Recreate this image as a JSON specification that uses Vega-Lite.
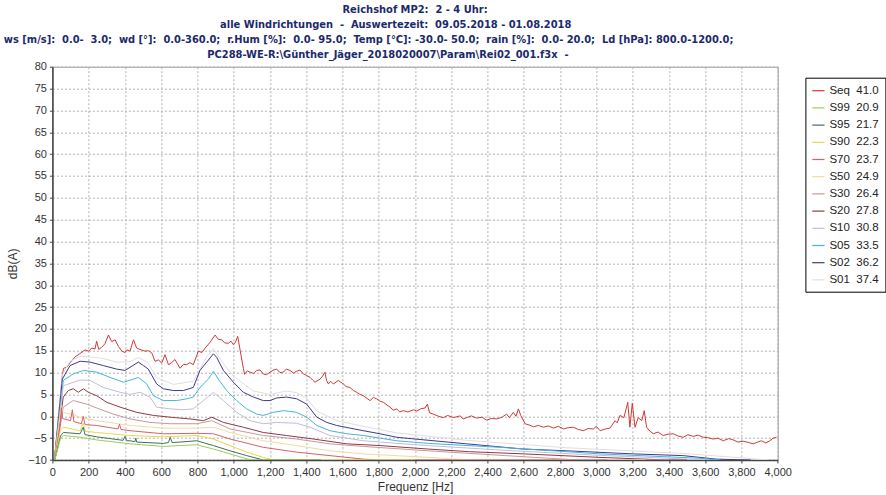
{
  "$schema": "https://vega.github.io/schema/vega-lite/v6.json",
  "width": 725.3,
  "height": 393.3,
  "autosize": "none",
  "padding": {"left": 52.4, "top": 66.7, "right": 108.3, "bottom": 35},
  "background": "white",
  "title": {
    "text": ["Reichshof MP2:\u00a0 2 - 4 Uhr:", "alle Windrichtungen\u00a0 -\u00a0 Auswertezeit:\u00a0 09.05.2018 - 01.08.2018\u2800\u2800\u2800\u2800\u2800", "ws [m/s]:\u00a0 0.0-\u00a0 3.0;\u00a0 wd [°]:\u00a0 0.0-360.0;\u00a0 r.Hum [%]:\u00a0 0.0- 95.0;\u00a0 Temp [°C]: -30.0- 50.0;\u00a0 rain [%]:\u00a0 0.0- 20.0;\u00a0 Ld [hPa]: 800.0-1200.0;\u2800\u2800\u2800\u2800\u2800\u2800\u2800\u2800\u2800\u2800\u2800\u2800", "PC288-WE-R:\\Günther_Jäger_2018020007\\Param\\Rei02_001.f3x\u00a0 -\u2800\u2800\u2800\u2800\u2800\u2800\u2800"],
    "font": "Liberation Sans Narrow, DejaVu Sans Condensed, sans-serif",
    "fontSize": 11,
    "fontWeight": "bold",
    "color": "#1c2a6c",
    "lineHeight": 15,
    "anchor": "middle",
    "offset": 1
  },
  "config": {
    "view": {"stroke": "#999", "strokeWidth": 1},
    "font": "Liberation Sans",
    "axis": {
      "labelFont": "Liberation Sans", "labelFontSize": 11, "labelColor": "#333",
      "titleFont": "Liberation Sans", "titleFontSize": 12, "titleFontWeight": "normal", "titleColor": "#333",
      "domainColor": "#444", "domainWidth": 1.5, "tickColor": "#444", "tickSize": 3,
      "gridColor": "#b0b0b0", "gridDash": [2, 2], "gridWidth": 1
    }
  },
  "datasets": {
    "spec": [
      {"s":"Seq","f":10,"v":-10.5},{"s":"Seq","f":55,"v":9.5},{"s":"Seq","f":62,"v":11.0},{"s":"Seq","f":80,"v":11.2},{"s":"Seq","f":100,"v":12.4},{"s":"Seq","f":125,"v":13.6},{"s":"Seq","f":150,"v":14.3},{"s":"Seq","f":180,"v":15.2},{"s":"Seq","f":200,"v":14.9},{"s":"Seq","f":216,"v":15.6},{"s":"Seq","f":235,"v":15.4},{"s":"Seq","f":244,"v":17.2},{"s":"Seq","f":256,"v":15.3},{"s":"Seq","f":272,"v":15.8},{"s":"Seq","f":290,"v":16.6},{"s":"Seq","f":309,"v":18.6},{"s":"Seq","f":327,"v":17.1},{"s":"Seq","f":346,"v":17.5},{"s":"Seq","f":364,"v":16.0},{"s":"Seq","f":383,"v":14.9},{"s":"Seq","f":400,"v":14.6},{"s":"Seq","f":410,"v":15.2},{"s":"Seq","f":428,"v":14.9},{"s":"Seq","f":447,"v":17.5},{"s":"Seq","f":465,"v":15.6},{"s":"Seq","f":490,"v":15.2},{"s":"Seq","f":511,"v":14.9},{"s":"Seq","f":530,"v":15.0},{"s":"Seq","f":548,"v":14.5},{"s":"Seq","f":566,"v":12.6},{"s":"Seq","f":585,"v":12.9},{"s":"Seq","f":603,"v":12.2},{"s":"Seq","f":621,"v":14.1},{"s":"Seq","f":640,"v":11.8},{"s":"Seq","f":658,"v":12.3},{"s":"Seq","f":676,"v":13.0},{"s":"Seq","f":690,"v":12.0},{"s":"Seq","f":704,"v":11.0},{"s":"Seq","f":722,"v":11.9},{"s":"Seq","f":740,"v":11.8},{"s":"Seq","f":758,"v":12.3},{"s":"Seq","f":777,"v":11.8},{"s":"Seq","f":805,"v":14.9},{"s":"Seq","f":825,"v":14.6},{"s":"Seq","f":842,"v":15.6},{"s":"Seq","f":869,"v":16.9},{"s":"Seq","f":897,"v":18.6},{"s":"Seq","f":915,"v":17.6},{"s":"Seq","f":934,"v":17.5},{"s":"Seq","f":950,"v":16.8},{"s":"Seq","f":970,"v":16.7},{"s":"Seq","f":985,"v":17.2},{"s":"Seq","f":998,"v":16.4},{"s":"Seq","f":1010,"v":17.0},{"s":"Seq","f":1022,"v":18.3},{"s":"Seq","f":1035,"v":15.2},{"s":"Seq","f":1053,"v":11.0},{"s":"Seq","f":1060,"v":9.6},{"s":"Seq","f":1075,"v":10.4},{"s":"Seq","f":1090,"v":10.1},{"s":"Seq","f":1110,"v":9.8},{"s":"Seq","f":1127,"v":10.5},{"s":"Seq","f":1145,"v":10.6},{"s":"Seq","f":1163,"v":9.7},{"s":"Seq","f":1180,"v":9.5},{"s":"Seq","f":1200,"v":10.1},{"s":"Seq","f":1220,"v":10.6},{"s":"Seq","f":1237,"v":10.8},{"s":"Seq","f":1255,"v":10.0},{"s":"Seq","f":1274,"v":10.1},{"s":"Seq","f":1290,"v":10.8},{"s":"Seq","f":1310,"v":10.5},{"s":"Seq","f":1330,"v":9.9},{"s":"Seq","f":1347,"v":10.3},{"s":"Seq","f":1365,"v":10.6},{"s":"Seq","f":1384,"v":9.7},{"s":"Seq","f":1400,"v":9.4},{"s":"Seq","f":1421,"v":8.9},{"s":"Seq","f":1435,"v":8.3},{"s":"Seq","f":1448,"v":7.8},{"s":"Seq","f":1476,"v":8.5},{"s":"Seq","f":1490,"v":9.2},{"s":"Seq","f":1503,"v":10.1},{"s":"Seq","f":1512,"v":8.2},{"s":"Seq","f":1522,"v":7.4},{"s":"Seq","f":1535,"v":8.0},{"s":"Seq","f":1549,"v":7.4},{"s":"Seq","f":1577,"v":8.2},{"s":"Seq","f":1590,"v":7.8},{"s":"Seq","f":1605,"v":7.4},{"s":"Seq","f":1620,"v":6.8},{"s":"Seq","f":1641,"v":6.6},{"s":"Seq","f":1660,"v":5.9},{"s":"Seq","f":1678,"v":5.5},{"s":"Seq","f":1697,"v":5.0},{"s":"Seq","f":1715,"v":4.7},{"s":"Seq","f":1735,"v":4.1},{"s":"Seq","f":1752,"v":3.6},{"s":"Seq","f":1770,"v":4.3},{"s":"Seq","f":1788,"v":4.0},{"s":"Seq","f":1805,"v":3.5},{"s":"Seq","f":1825,"v":3.2},{"s":"Seq","f":1845,"v":2.6},{"s":"Seq","f":1862,"v":2.1},{"s":"Seq","f":1880,"v":1.4},{"s":"Seq","f":1899,"v":1.7},{"s":"Seq","f":1915,"v":1.0},{"s":"Seq","f":1935,"v":1.3},{"s":"Seq","f":1960,"v":1.0},{"s":"Seq","f":1991,"v":1.5},{"s":"Seq","f":2010,"v":1.2},{"s":"Seq","f":2030,"v":1.7},{"s":"Seq","f":2055,"v":1.9},{"s":"Seq","f":2068,"v":2.8},{"s":"Seq","f":2080,"v":0.8},{"s":"Seq","f":2101,"v":0.5},{"s":"Seq","f":2130,"v":0.0},{"s":"Seq","f":2156,"v":-0.3},{"s":"Seq","f":2180,"v":0.2},{"s":"Seq","f":2211,"v":-0.3},{"s":"Seq","f":2248,"v":0.1},{"s":"Seq","f":2265,"v":-0.6},{"s":"Seq","f":2285,"v":-0.3},{"s":"Seq","f":2310,"v":0.1},{"s":"Seq","f":2340,"v":-0.4},{"s":"Seq","f":2370,"v":-0.2},{"s":"Seq","f":2395,"v":-0.9},{"s":"Seq","f":2420,"v":-0.5},{"s":"Seq","f":2450,"v":-0.6},{"s":"Seq","f":2480,"v":-0.2},{"s":"Seq","f":2505,"v":0.5},{"s":"Seq","f":2520,"v":-0.3},{"s":"Seq","f":2542,"v":0.9},{"s":"Seq","f":2557,"v":0.0},{"s":"Seq","f":2570,"v":1.7},{"s":"Seq","f":2583,"v":0.2},{"s":"Seq","f":2607,"v":-1.7},{"s":"Seq","f":2630,"v":-2.0},{"s":"Seq","f":2653,"v":-2.4},{"s":"Seq","f":2680,"v":-2.1},{"s":"Seq","f":2708,"v":-2.5},{"s":"Seq","f":2735,"v":-2.2},{"s":"Seq","f":2763,"v":-2.7},{"s":"Seq","f":2790,"v":-2.3},{"s":"Seq","f":2818,"v":-2.9},{"s":"Seq","f":2845,"v":-2.6},{"s":"Seq","f":2873,"v":-2.5},{"s":"Seq","f":2900,"v":-3.0},{"s":"Seq","f":2928,"v":-3.3},{"s":"Seq","f":2955,"v":-2.8},{"s":"Seq","f":2983,"v":-2.9},{"s":"Seq","f":3000,"v":-2.3},{"s":"Seq","f":3020,"v":-3.3},{"s":"Seq","f":3050,"v":-2.9},{"s":"Seq","f":3075,"v":-2.7},{"s":"Seq","f":3103,"v":-1.0},{"s":"Seq","f":3115,"v":-1.5},{"s":"Seq","f":3130,"v":0.2},{"s":"Seq","f":3152,"v":-0.3},{"s":"Seq","f":3173,"v":3.2},{"s":"Seq","f":3185,"v":-2.5},{"s":"Seq","f":3198,"v":3.0},{"s":"Seq","f":3213,"v":-2.5},{"s":"Seq","f":3231,"v":-0.3},{"s":"Seq","f":3250,"v":-1.0},{"s":"Seq","f":3264,"v":1.3},{"s":"Seq","f":3277,"v":-2.5},{"s":"Seq","f":3295,"v":-3.4},{"s":"Seq","f":3314,"v":-4.0},{"s":"Seq","f":3340,"v":-3.6},{"s":"Seq","f":3369,"v":-4.4},{"s":"Seq","f":3395,"v":-4.1},{"s":"Seq","f":3424,"v":-4.0},{"s":"Seq","f":3450,"v":-4.5},{"s":"Seq","f":3479,"v":-4.8},{"s":"Seq","f":3505,"v":-4.2},{"s":"Seq","f":3534,"v":-4.6},{"s":"Seq","f":3560,"v":-4.3},{"s":"Seq","f":3589,"v":-4.8},{"s":"Seq","f":3615,"v":-4.9},{"s":"Seq","f":3645,"v":-5.2},{"s":"Seq","f":3670,"v":-5.0},{"s":"Seq","f":3700,"v":-5.6},{"s":"Seq","f":3730,"v":-5.1},{"s":"Seq","f":3755,"v":-5.4},{"s":"Seq","f":3780,"v":-5.9},{"s":"Seq","f":3810,"v":-5.7},{"s":"Seq","f":3840,"v":-6.0},{"s":"Seq","f":3865,"v":-6.3},{"s":"Seq","f":3890,"v":-5.9},{"s":"Seq","f":3911,"v":-5.6},{"s":"Seq","f":3935,"v":-6.1},{"s":"Seq","f":3957,"v":-5.6},{"s":"Seq","f":3975,"v":-5.0},{"s":"Seq","f":3994,"v":-4.8},

      {"s":"S01","f":10,"v":-10.5},{"s":"S01","f":55,"v":9.5},{"s":"S01","f":97,"v":12.6},{"s":"S01","f":153,"v":13.7},{"s":"S01","f":208,"v":13.6},{"s":"S01","f":281,"v":13.2},{"s":"S01","f":355,"v":12.4},{"s":"S01","f":428,"v":12.5},{"s":"S01","f":474,"v":13.5},{"s":"S01","f":529,"v":12.2},{"s":"S01","f":575,"v":8.8},{"s":"S01","f":667,"v":7.3},{"s":"S01","f":777,"v":8.0},{"s":"S01","f":851,"v":13.6},{"s":"S01","f":888,"v":15.5},{"s":"S01","f":943,"v":12.0},{"s":"S01","f":998,"v":9.2},{"s":"S01","f":1108,"v":5.8},{"s":"S01","f":1200,"v":5.0},{"s":"S01","f":1292,"v":5.8},{"s":"S01","f":1347,"v":5.4},{"s":"S01","f":1402,"v":4.2},{"s":"S01","f":1458,"v":1.2},{"s":"S01","f":1568,"v":-1.0},{"s":"S01","f":1715,"v":-2.3},{"s":"S01","f":1899,"v":-3.8},{"s":"S01","f":2285,"v":-5.5},{"s":"S01","f":2836,"v":-7.2},{"s":"S01","f":3479,"v":-8.5},{"s":"S01","f":3800,"v":-9.5},{"s":"S01","f":3950,"v":-10},

      {"s":"S02","f":10,"v":-10.5},{"s":"S02","f":55,"v":8.5},{"s":"S02","f":97,"v":11.6},{"s":"S02","f":153,"v":12.6},{"s":"S02","f":208,"v":12.4},{"s":"S02","f":281,"v":11.6},{"s":"S02","f":355,"v":10.8},{"s":"S02","f":400,"v":10.5},{"s":"S02","f":428,"v":11.2},{"s":"S02","f":474,"v":12.4},{"s":"S02","f":502,"v":11.6},{"s":"S02","f":529,"v":10.8},{"s":"S02","f":575,"v":7.4},{"s":"S02","f":612,"v":6.3},{"s":"S02","f":667,"v":5.9},{"s":"S02","f":722,"v":5.9},{"s":"S02","f":777,"v":6.6},{"s":"S02","f":814,"v":10.5},{"s":"S02","f":851,"v":12.4},{"s":"S02","f":888,"v":14.3},{"s":"S02","f":906,"v":13.5},{"s":"S02","f":943,"v":10.5},{"s":"S02","f":998,"v":7.8},{"s":"S02","f":1053,"v":5.5},{"s":"S02","f":1108,"v":4.4},{"s":"S02","f":1163,"v":3.6},{"s":"S02","f":1200,"v":3.6},{"s":"S02","f":1237,"v":4.2},{"s":"S02","f":1292,"v":4.4},{"s":"S02","f":1347,"v":4.0},{"s":"S02","f":1402,"v":2.8},{"s":"S02","f":1458,"v":-0.2},{"s":"S02","f":1513,"v":-1.4},{"s":"S02","f":1568,"v":-2.1},{"s":"S02","f":1641,"v":-2.7},{"s":"S02","f":1715,"v":-3.3},{"s":"S02","f":1807,"v":-4.0},{"s":"S02","f":1899,"v":-4.8},{"s":"S02","f":2000,"v":-5.2},{"s":"S02","f":2285,"v":-6.3},{"s":"S02","f":2597,"v":-7.5},{"s":"S02","f":2836,"v":-7.9},{"s":"S02","f":3204,"v":-8.6},{"s":"S02","f":3479,"v":-9.0},{"s":"S02","f":3663,"v":-9.8},{"s":"S02","f":3850,"v":-10},

      {"s":"S05","f":10,"v":-10.5},{"s":"S05","f":60,"v":8.2},{"s":"S05","f":115,"v":9.7},{"s":"S05","f":171,"v":10.5},{"s":"S05","f":245,"v":10.1},{"s":"S05","f":318,"v":8.9},{"s":"S05","f":392,"v":7.8},{"s":"S05","f":447,"v":8.5},{"s":"S05","f":474,"v":8.9},{"s":"S05","f":520,"v":7.4},{"s":"S05","f":557,"v":4.7},{"s":"S05","f":612,"v":3.6},{"s":"S05","f":685,"v":3.6},{"s":"S05","f":741,"v":4.0},{"s":"S05","f":777,"v":4.4},{"s":"S05","f":814,"v":6.6},{"s":"S05","f":860,"v":8.5},{"s":"S05","f":888,"v":10.3},{"s":"S05","f":915,"v":8.5},{"s":"S05","f":961,"v":5.9},{"s":"S05","f":1016,"v":3.6},{"s":"S05","f":1071,"v":1.7},{"s":"S05","f":1127,"v":0.5},{"s":"S05","f":1163,"v":0.2},{"s":"S05","f":1218,"v":0.9},{"s":"S05","f":1274,"v":1.3},{"s":"S05","f":1347,"v":0.9},{"s":"S05","f":1402,"v":-0.2},{"s":"S05","f":1458,"v":-2.1},{"s":"S05","f":1531,"v":-3.3},{"s":"S05","f":1623,"v":-4.0},{"s":"S05","f":1715,"v":-4.4},{"s":"S05","f":1807,"v":-5.0},{"s":"S05","f":1899,"v":-5.6},{"s":"S05","f":2073,"v":-6.2},{"s":"S05","f":2469,"v":-7.1},{"s":"S05","f":3020,"v":-8.6},{"s":"S05","f":3571,"v":-9.6},{"s":"S05","f":3680,"v":-10},

      {"s":"S10","f":10,"v":-10.5},{"s":"S10","f":60,"v":7.0},{"s":"S10","f":153,"v":8.3},{"s":"S10","f":208,"v":8.2},{"s":"S10","f":281,"v":6.6},{"s":"S10","f":373,"v":5.5},{"s":"S10","f":428,"v":5.0},{"s":"S10","f":483,"v":5.5},{"s":"S10","f":538,"v":4.4},{"s":"S10","f":575,"v":2.1},{"s":"S10","f":649,"v":1.7},{"s":"S10","f":722,"v":1.5},{"s":"S10","f":777,"v":1.7},{"s":"S10","f":833,"v":3.6},{"s":"S10","f":888,"v":5.5},{"s":"S10","f":943,"v":3.6},{"s":"S10","f":1016,"v":0.9},{"s":"S10","f":1090,"v":-1.0},{"s":"S10","f":1163,"v":-1.7},{"s":"S10","f":1237,"v":-1.4},{"s":"S10","f":1347,"v":-1.6},{"s":"S10","f":1421,"v":-2.5},{"s":"S10","f":1531,"v":-4.4},{"s":"S10","f":1715,"v":-5.6},{"s":"S10","f":1899,"v":-6.2},{"s":"S10","f":2073,"v":-6.7},{"s":"S10","f":2500,"v":-7.8},{"s":"S10","f":3000,"v":-8.9},{"s":"S10","f":3400,"v":-9.6},{"s":"S10","f":3600,"v":-10},

      {"s":"S20","f":10,"v":-10.5},{"s":"S20","f":42,"v":-1.0},{"s":"S20","f":60,"v":4.4},{"s":"S20","f":88,"v":5.9},{"s":"S20","f":115,"v":6.3},{"s":"S20","f":143,"v":5.5},{"s":"S20","f":171,"v":6.3},{"s":"S20","f":198,"v":5.5},{"s":"S20","f":245,"v":4.7},{"s":"S20","f":300,"v":3.2},{"s":"S20","f":373,"v":2.1},{"s":"S20","f":465,"v":0.9},{"s":"S20","f":557,"v":0.2},{"s":"S20","f":649,"v":-0.2},{"s":"S20","f":759,"v":-0.6},{"s":"S20","f":833,"v":-1.0},{"s":"S20","f":879,"v":-0.2},{"s":"S20","f":943,"v":-1.4},{"s":"S20","f":1053,"v":-2.5},{"s":"S20","f":1163,"v":-3.7},{"s":"S20","f":1292,"v":-4.4},{"s":"S20","f":1439,"v":-5.2},{"s":"S20","f":1623,"v":-6.3},{"s":"S20","f":1807,"v":-6.7},{"s":"S20","f":2073,"v":-7.5},{"s":"S20","f":2300,"v":-8.1},{"s":"S20","f":2600,"v":-8.6},{"s":"S20","f":3020,"v":-9.4},{"s":"S20","f":3387,"v":-10},{"s":"S20","f":3500,"v":-10},

      {"s":"S30","f":10,"v":-10.5},{"s":"S30","f":60,"v":2.1},{"s":"S30","f":115,"v":3.6},{"s":"S30","f":189,"v":2.8},{"s":"S30","f":244,"v":1.9},{"s":"S30","f":336,"v":0.5},{"s":"S30","f":428,"v":-0.6},{"s":"S30","f":538,"v":-1.4},{"s":"S30","f":649,"v":-1.7},{"s":"S30","f":796,"v":-1.7},{"s":"S30","f":879,"v":-1.0},{"s":"S30","f":980,"v":-2.9},{"s":"S30","f":1163,"v":-4.4},{"s":"S30","f":1347,"v":-5.2},{"s":"S30","f":1531,"v":-6.3},{"s":"S30","f":1715,"v":-6.9},{"s":"S30","f":2073,"v":-7.9},{"s":"S30","f":2500,"v":-9.0},{"s":"S30","f":2900,"v":-10},{"s":"S30","f":3400,"v":-10},

      {"s":"S50","f":10,"v":-10.5},{"s":"S50","f":45,"v":1.0},{"s":"S50","f":50,"v":2.4},{"s":"S50","f":56,"v":0.9},{"s":"S50","f":61,"v":0.9},{"s":"S50","f":110,"v":0.4},{"s":"S50","f":153,"v":-0.2},{"s":"S50","f":244,"v":-1.0},{"s":"S50","f":428,"v":-2.1},{"s":"S50","f":612,"v":-2.7},{"s":"S50","f":796,"v":-2.7},{"s":"S50","f":888,"v":-2.5},{"s":"S50","f":980,"v":-3.7},{"s":"S50","f":1163,"v":-5.6},{"s":"S50","f":1347,"v":-6.7},{"s":"S50","f":1531,"v":-7.9},{"s":"S50","f":1715,"v":-8.6},{"s":"S50","f":2073,"v":-9.4},{"s":"S50","f":2300,"v":-10},{"s":"S50","f":3270,"v":-10},

      {"s":"S70","f":10,"v":-10.5},{"s":"S70","f":45,"v":-1.5},{"s":"S70","f":50,"v":2.0},{"s":"S70","f":56,"v":-0.5},{"s":"S70","f":100,"v":-1.0},{"s":"S70","f":110,"v":1.5},{"s":"S70","f":118,"v":-1.2},{"s":"S70","f":160,"v":-1.7},{"s":"S70","f":170,"v":0.0},{"s":"S70","f":180,"v":-1.9},{"s":"S70","f":244,"v":-2.1},{"s":"S70","f":362,"v":-2.9},{"s":"S70","f":370,"v":-1.8},{"s":"S70","f":378,"v":-3.0},{"s":"S70","f":428,"v":-3.3},{"s":"S70","f":612,"v":-4.0},{"s":"S70","f":796,"v":-3.9},{"s":"S70","f":888,"v":-4.0},{"s":"S70","f":980,"v":-5.2},{"s":"S70","f":1163,"v":-7.1},{"s":"S70","f":1347,"v":-8.2},{"s":"S70","f":1531,"v":-9.0},{"s":"S70","f":1715,"v":-9.8},{"s":"S70","f":1800,"v":-10},{"s":"S70","f":3060,"v":-10},

      {"s":"S90","f":10,"v":-10.5},{"s":"S90","f":45,"v":-3.0},{"s":"S90","f":61,"v":-2.5},{"s":"S90","f":153,"v":-3.3},{"s":"S90","f":170,"v":-1.5},{"s":"S90","f":180,"v":-3.4},{"s":"S90","f":244,"v":-3.7},{"s":"S90","f":428,"v":-4.4},{"s":"S90","f":612,"v":-4.7},{"s":"S90","f":796,"v":-4.4},{"s":"S90","f":888,"v":-5.2},{"s":"S90","f":980,"v":-6.7},{"s":"S90","f":1072,"v":-8.2},{"s":"S90","f":1163,"v":-9.4},{"s":"S90","f":1219,"v":-10},{"s":"S90","f":2000,"v":-10},

      {"s":"S95","f":10,"v":-10.5},{"s":"S95","f":45,"v":-4.5},{"s":"S95","f":61,"v":-3.7},{"s":"S95","f":153,"v":-4.0},{"s":"S95","f":170,"v":-2.5},{"s":"S95","f":180,"v":-4.2},{"s":"S95","f":244,"v":-4.7},{"s":"S95","f":390,"v":-5.5},{"s":"S95","f":400,"v":-4.6},{"s":"S95","f":410,"v":-5.6},{"s":"S95","f":428,"v":-5.6},{"s":"S95","f":455,"v":-5.8},{"s":"S95","f":460,"v":-5.0},{"s":"S95","f":465,"v":-5.9},{"s":"S95","f":612,"v":-6.2},{"s":"S95","f":640,"v":-6.0},{"s":"S95","f":650,"v":-4.8},{"s":"S95","f":660,"v":-6.0},{"s":"S95","f":704,"v":-5.9},{"s":"S95","f":796,"v":-5.6},{"s":"S95","f":888,"v":-6.7},{"s":"S95","f":980,"v":-7.9},{"s":"S95","f":1072,"v":-9.0},{"s":"S95","f":1163,"v":-10},{"s":"S95","f":1480,"v":-10},

      {"s":"S99","f":10,"v":-10.5},{"s":"S99","f":45,"v":-5.0},{"s":"S99","f":61,"v":-4.4},{"s":"S99","f":153,"v":-4.8},{"s":"S99","f":244,"v":-5.4},{"s":"S99","f":428,"v":-6.3},{"s":"S99","f":612,"v":-6.9},{"s":"S99","f":796,"v":-6.5},{"s":"S99","f":888,"v":-7.5},{"s":"S99","f":980,"v":-8.6},{"s":"S99","f":1060,"v":-9.6},{"s":"S99","f":1100,"v":-10},{"s":"S99","f":1480,"v":-10}
    ]
  },
  "data": {"name": "spec"},
  "mark": {"type": "line", "strokeWidth": 1, "clip": true, "interpolate": "linear"},
  "encoding": {
    "x": {
      "field": "f", "type": "quantitative",
      "scale": {"domain": [0, 4000], "nice": false, "zero": false},
      "axis": {"values": [0,200,400,600,800,1000,1200,1400,1600,1800,2000,2200,2400,2600,2800,3000,3200,3400,3600,3800,4000], "format": ",d", "title": "Frequenz [Hz]", "titlePadding": 4, "labelPadding": 3, "labelFlush": false}
    },
    "y": {
      "field": "v", "type": "quantitative",
      "scale": {"domain": [-10, 80], "nice": false, "zero": false},
      "axis": {"values": [-10,-5,0,5,10,15,20,25,30,35,40,45,50,55,60,65,70,75,80], "title": "dB(A)", "titlePadding": 8, "labelPadding": 3, "labelFlush": false}
    },
    "color": {
      "field": "s", "type": "nominal",
      "scale": {
        "domain": ["Seq","S99","S95","S90","S70","S50","S30","S20","S10","S05","S02","S01"],
        "range": ["#d03a3a","#9acd5a","#3f6f5f","#e8d84a","#d8606a","#f0dca0","#c89898","#8e3a46","#c4bcd8","#45b5d5","#3a3a90","#e4dce4"]
      },
      "legend": {
        "title": null,
        "orient": "none",
        "legendX": 753,
        "legendY": 11,
        "strokeColor": "#000",
        "fillColor": "#fff",
        "padding": 6,
        "symbolType": "stroke",
        "symbolSize": 150,
        "symbolStrokeWidth": 1.2,
        "labelFont": "Liberation Sans",
        "labelFontSize": 11.5,
        "labelColor": "#222",
        "rowPadding": 4.2,
        "labelLimit": 200,
        "labelExpr": "datum.label + '\u00a0\u00a0' + ({'Seq':'41.0','S99':'20.9','S95':'21.7','S90':'22.3','S70':'23.7','S50':'24.9','S30':'26.4','S20':'27.8','S10':'30.8','S05':'33.5','S02':'36.2','S01':'37.4'})[datum.label]"
      }
    }
  }
}
